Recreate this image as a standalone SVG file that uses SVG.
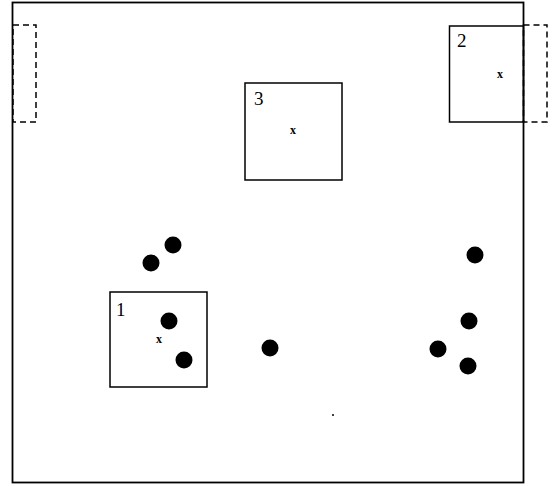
<svg xmlns="http://www.w3.org/2000/svg" width="553" height="486" viewBox="0 0 553 486">
<style>
.frame{fill:none;stroke:#000;stroke-width:1.8}
.box{fill:none;stroke:#000;stroke-width:1.5}
.dash{fill:none;stroke:#000;stroke-width:1.5;stroke-dasharray:6,4}
.dot{fill:#000}
.num{font-family:"Liberation Serif",serif;font-size:19px;fill:#000}
.x{font-family:"Liberation Serif",serif;font-size:12px;font-weight:bold;fill:#000;text-anchor:middle}
</style>
<rect width="553" height="486" fill="#fff"/>
<rect class="frame" x="12.5" y="2.5" width="511" height="480"/>
<g id="ghost-left"><rect class="dash" x="13" y="25" width="23" height="97"/></g>
<g id="ghost-right"><rect class="dash" x="523.5" y="25" width="23.5" height="97"/></g>
<g id="region1">
<rect class="box" x="110" y="292" width="97" height="95"/>
<text class="num" x="116" y="316">1</text>
<text class="x" x="159" y="343">x</text>
</g>
<g id="region2">
<rect class="box" x="449.5" y="26" width="74" height="96"/>
<text class="num" x="457" y="47">2</text>
<text class="x" x="500" y="78">x</text>
</g>
<g id="region3">
<rect class="box" x="245" y="83" width="97" height="97"/>
<text class="num" x="254" y="105">3</text>
<text class="x" x="293" y="134">x</text>
</g>
<g id="points">
<circle class="dot" cx="173" cy="245" r="8.5"/>
<circle class="dot" cx="151" cy="263" r="8.5"/>
<circle class="dot" cx="169" cy="321" r="8.5"/>
<circle class="dot" cx="184" cy="360" r="8.5"/>
<circle class="dot" cx="270" cy="348" r="8.5"/>
<circle class="dot" cx="475" cy="255" r="8.5"/>
<circle class="dot" cx="469" cy="321" r="8.5"/>
<circle class="dot" cx="438" cy="349" r="8.5"/>
<circle class="dot" cx="468" cy="366" r="8.5"/>
<circle class="dot" cx="333" cy="415" r="1"/>
</g>
</svg>
